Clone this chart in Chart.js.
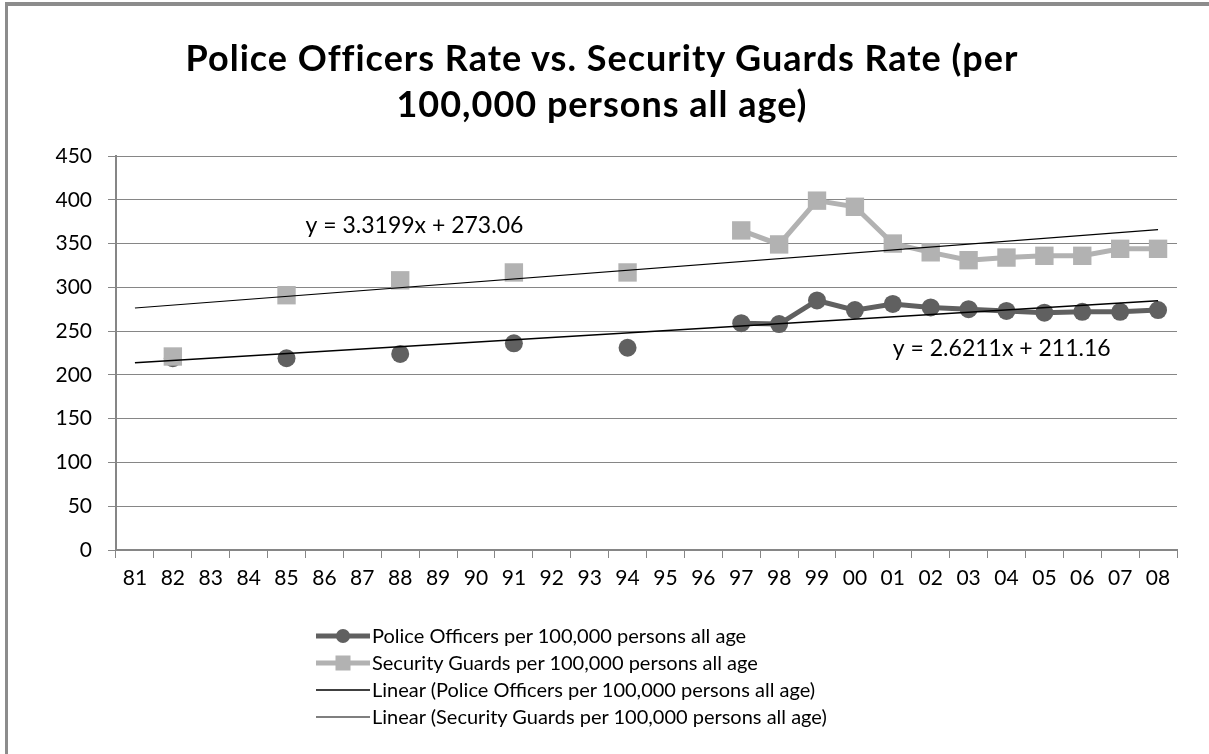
<!DOCTYPE html>
<html>
<head>
<meta charset="utf-8">
<script src="https://cdn.jsdelivr.net/npm/chart.js@4"></script>
<style>
  html, body { margin: 0; padding: 0; background: #fff; }
  body { width: 1209px; height: 754px; position: relative; overflow: hidden; font-family: Lato, "Open Sans", sans-serif; }
  #frame { position: absolute; left: 5px; top: 2px; width: 1210px; height: 760px; border-left: 3px solid #8c8c8c; border-top: 4px solid #8c8c8c; box-sizing: border-box; }
  #title { position: absolute; left: 0; width: 1204px; top: 34px; text-align: center; font-weight: bold; font-size: 36px; letter-spacing: 1px; line-height: 46px; color: #000; }
  #legend { position: absolute; left: 316px; top: 622px; font-size: 20px; line-height: 27px; color: #000; }
  #legend div { display: flex; align-items: center; height: 27px; white-space: nowrap; }
  #legend svg { margin-right: 2px; }
  canvas { position: absolute; left: 0; top: 0; }
</style>
</head>
<body>
<canvas id="chart" width="1209" height="754"></canvas>
<div id="frame"></div>
<div id="title">Police Officers Rate vs. Security Guards Rate (per<br>100,000 persons all age)</div>
<div id="legend"></div>
<script>
// years 1981 - 2008
const years = ["81", "82", "83", "84", "85", "86", "87", "88", "89", "90", "91", "92", "93", "94",
  "95", "96", "97", "98", "99", "00", "01", "02", "03", "04", "05", "06", "07", "08"];

const policeRate = [null, 219, null, null, 219, null, null, 224, null, null, 236, null, null, 231,
  null, null, 259, 258, 285, 274, 281, 277, 275, 273, 271, 272, 272, 274];

const guardsRate = [null, 221, null, null, 291, null, null, 308, null, null, 317, null, null, 317,
  null, null, 365, 349, 399, 392, 350, 340, 331, 334, 336, 336, 344, 344];

// trend line ends (first and last year)
const policeTrendEnds = [213.8, 284.6];
const guardsTrendEnds = [276.4, 366.0];

const yTicks = [0, 50, 100, 150, 200, 250, 300, 350, 400, 450];

const policeLabel = "Police Officers per 100,000 persons all age";
const guardsLabel = "Security Guards per 100,000 persons all age";

function trendData(ends) {
  let arr = years.map(() => null);
  arr[0] = ends[0];
  arr[arr.length - 1] = ends[1];
  return arr;
}

const equationLabels = {
  id: "equationLabels",
  afterDatasetsDraw(chart) {
    let ctx = chart.ctx;
    let x = chart.scales.x;
    let y = chart.scales.y;
    ctx.save();
    ctx.font = "23px Lato";
    ctx.fillStyle = "#000";
    ctx.textBaseline = "middle";
    ctx.textAlign = "left";
    ctx.fillText("y = 3.3199x + 273.06", x.getPixelForValue(4) + 19, y.getPixelForValue(370));
    ctx.fillText("y = 2.6211x + 211.16", x.getPixelForValue(20), y.getPixelForValue(229.5));
    ctx.restore();
  }
};

const gridColor = "#868686";

let chart = new Chart(document.getElementById("chart"), {
  type: "line",
  data: {
    labels: years,
    datasets: [
      {
        label: policeLabel,
        data: policeRate,
        borderColor: "#606060",
        backgroundColor: "#606060",
        borderWidth: 5,
        pointStyle: "circle",
        pointRadius: 9,
        pointBorderWidth: 0,
        pointBackgroundColor: "#606060",
        spanGaps: false,
        order: 3
      },
      {
        label: guardsLabel,
        data: guardsRate,
        borderColor: "#b2b2b2",
        backgroundColor: "#b2b2b2",
        borderWidth: 5,
        pointStyle: "rect",
        pointRadius: 13,
        pointBorderWidth: 0,
        pointBackgroundColor: "#b2b2b2",
        spanGaps: false,
        order: 2
      },
      {
        label: "Linear (Police Officers per 100,000 persons all age)",
        data: trendData(policeTrendEnds),
        borderColor: "#000",
        borderWidth: 1.6,
        pointRadius: 0,
        spanGaps: true,
        order: 1
      },
      {
        label: "Linear (Security Guards per 100,000 persons all age)",
        data: trendData(guardsTrendEnds),
        borderColor: "#000",
        borderWidth: 1.2,
        pointRadius: 0,
        spanGaps: true,
        order: 0
      }
    ]
  },
  options: {
    responsive: false,
    devicePixelRatio: 1,
    animation: false,
    layout: { padding: { left: 0, right: 32, top: 156, bottom: 0 } },
    plugins: {
      legend: { display: false },
      title: { display: false },
      tooltip: { enabled: false }
    },
    scales: {
      x: {
        offset: true,
        grid: { offset: true, drawOnChartArea: false, drawTicks: true, tickLength: 8, color: gridColor, lineWidth: 1 },
        border: { color: gridColor, width: 2 },
        ticks: { font: { family: "Lato", size: 21 }, color: "#000", padding: 8, maxRotation: 0, autoSkip: false },
        afterFit(scale) { scale.height = 204; }
      },
      y: {
        min: 0,
        max: 450,
        afterBuildTicks(scale) { scale.ticks = yTicks.map(v => ({ value: v })); },
        grid: { color: gridColor, lineWidth: 1, tickLength: 8 },
        border: { color: gridColor, width: 2 },
        ticks: { font: { family: "Lato", size: 21 }, color: "#000", padding: 16 },
        afterFit(scale) { scale.width = 116; }
      }
    }
  },
  plugins: [equationLabels]
});

// legend with line + marker icons
function legendIcon(ds) {
  let w = 54, h = 24, mid = h / 2;
  let svg = `<svg width="${w}" height="${h}"><line x1="0" y1="${mid}" x2="${w}" y2="${mid}" stroke="${ds.borderColor}" stroke-width="${ds.borderWidth}"/>`;
  if (ds.pointRadius > 0) {
    if (ds.pointStyle === "rect") {
      let s = 15;
      svg += `<rect x="${w / 2 - s / 2}" y="${mid - s / 2}" width="${s}" height="${s}" fill="${ds.pointBackgroundColor}"/>`;
    } else {
      svg += `<circle cx="${w / 2}" cy="${mid}" r="7" fill="${ds.pointBackgroundColor}"/>`;
    }
  }
  return svg + "</svg>";
}

let legendDiv = document.getElementById("legend");
chart.data.datasets.forEach(ds => {
  let row = document.createElement("div");
  row.innerHTML = legendIcon(ds) + "<span></span>";
  row.querySelector("span").textContent = ds.label;
  legendDiv.append(row);
});
</script>
</body>
</html>
